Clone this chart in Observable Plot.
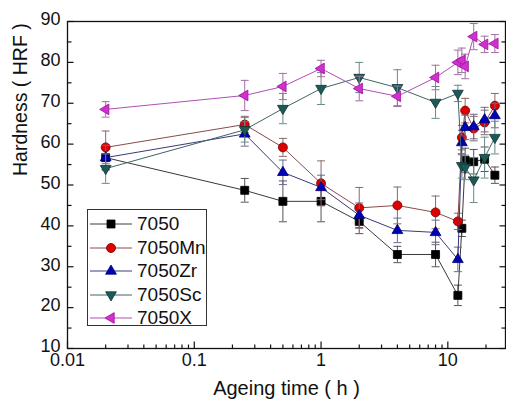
<!DOCTYPE html>
<html><head><meta charset="utf-8">
<script src="https://cdn.jsdelivr.net/npm/d3@7"></script>
<script src="https://cdn.jsdelivr.net/npm/@observablehq/plot@0.6"></script>
<style>
body{margin:0;background:#fff;font-family:"Liberation Sans",Arial,sans-serif;}
#wrap{position:relative;width:506px;height:407px;overflow:hidden;}
#legend{position:absolute;left:87px;top:209px;width:120px;height:117px;border:1px solid #333;background:#fff;box-sizing:border-box;}
.row{position:absolute;left:0;height:22px;display:flex;align-items:center;}
.row span{font-size:19px;color:#111;margin-left:4px;line-height:22px;white-space:nowrap;}
</style></head><body><div id="wrap"></div>
<script>
// ---- data ----
const times = [0.02, 0.25, 0.5, 1, 2, 4, 8, 12, 12.9, 13.7, 16, 19.5, 23.5];
const seriesNames = ["7050", "7050Mn", "7050Zr", "7050Sc", "7050X"];
const h7050   = [56.7, 48.7, 46.0, 46.0, 41.1, 33.0, 33.0, 23.0, 39.4, 56.0, 55.7, 56.3, 52.4];
const h7050Mn = [59.2, 64.8, 59.2, 50.4, 44.4, 45.0, 43.3, 41.1, 61.6, 68.2, 63.8, 65.3, 69.4];
const h7050Zr = [56.7, 62.5, 53.1, 49.4, 42.6, 38.9, 38.4, 31.8, 60.4, 64.1, 64.3, 66.0, 67.0];
const h7050Sc = [54.0, 63.5, 68.7, 73.6, 76.3, 73.8, 70.2, 72.4, 54.7, 54.3, 51.2, 56.7, 61.6];
const h7050X  = [68.5, 71.9, 74.1, 78.5, 73.6, 71.7, 76.3, 80.0, 80.5, 79.0, 86.3, 84.4, 84.6];
const e7050   = [3.0, 2.9, 5.0, 5.0, 3.0, 2.0, 3.0, 2.5, 2.0, 3.0, 3.0, 3.0, 2.0];
const e7050Mn = [4.0, 2.0, 2.2, 5.5, 5.0, 4.5, 4.0, 2.0, 3.0, 3.0, 3.0, 3.0, 3.0];
const e7050Zr = [3.0, 3.0, 3.0, 3.0, 3.0, 3.0, 3.0, 3.0, 3.0, 3.0, 3.0, 3.0, 3.0];
const e7050Sc = [3.6, 3.0, 3.7, 3.9, 3.7, 4.4, 3.9, 2.0, 3.0, 3.0, 5.5, 5.0, 4.0];
const e7050X  = [1.9, 3.7, 3.2, 2.0, 3.0, 2.5, 3.0, 3.0, 3.0, 3.0, 3.2, 2.0, 2.2];
const xTickLabels = [0.01, 0.1, 1, 10];
const xMinorTicks = [0.02,0.03,0.04,0.05,0.06,0.07,0.08,0.09,0.2,0.3,0.4,0.5,0.6,0.7,0.8,0.9,2,3,4,5,6,7,8,9,20];
const yTickLabels = [10, 20, 30, 40, 50, 60, 70, 80, 90];
const yMinorTicks = [15, 25, 35, 45, 55, 65, 75, 85];

// ---- symbols ----
const symSquare = {draw(c){c.rect(-4,-4,8,8);}};
const symCircle = {draw(c){c.moveTo(4.5,0); c.arc(0,0,4.5,0,2*Math.PI);}};
const symUp = {draw(c){c.moveTo(0,-6); c.lineTo(5.4,3.2); c.lineTo(-5.4,3.2); c.closePath();}};
const symDown = {draw(c){c.moveTo(0,6); c.lineTo(5.4,-3.2); c.lineTo(-5.4,-3.2); c.closePath();}};
const symLeft = {draw(c){c.moveTo(-6,0); c.lineTo(3.2,-5.4); c.lineTo(3.2,5.4); c.closePath();}};
const symCap = {draw(c){c.moveTo(-4,0); c.lineTo(4,0);}};
const tickR = (l) => ({draw(c){c.moveTo(0,0); c.lineTo(l,0);}});
const tickL = (l) => ({draw(c){c.moveTo(0,0); c.lineTo(-l,0);}});
const tickU = (l) => ({draw(c){c.moveTo(0,0); c.lineTo(0,-l);}});

const styles = {
  "7050":   {sym: symSquare, fill: "#000000", stroke: "#000000", line: "#3a3a3a", err: "#555555"},
  "7050Mn": {sym: symCircle, fill: "#dd0000", stroke: "#7a0000", line: "#8a4a4a", err: "#8a6a6a"},
  "7050Zr": {sym: symUp,     fill: "#0000b8", stroke: "#000070", line: "#3a3a78", err: "#6a6a90"},
  "7050Sc": {sym: symDown,   fill: "#1c5a58", stroke: "#0c3634", line: "#3d6664", err: "#6a8a88"},
  "7050X":  {sym: symLeft,   fill: "#d030d0", stroke: "#a010a0", line: "#b050b0", err: "#a070a0"}
};
const values = {"7050": h7050, "7050Mn": h7050Mn, "7050Zr": h7050Zr, "7050Sc": h7050Sc, "7050X": h7050X};
const errors = {"7050": e7050, "7050Mn": e7050Mn, "7050Zr": e7050Zr, "7050Sc": e7050Sc, "7050X": e7050X};

const marks = [];
for (const s of seriesNames) {
  const st = styles[s];
  const data = times.map((t, i) => ({t, v: values[s][i], lo: values[s][i] - errors[s][i], hi: values[s][i] + errors[s][i]}));
  marks.push(Plot.ruleX(data, {x: "t", y1: "lo", y2: "hi", stroke: st.err, strokeWidth: 1}));
  marks.push(Plot.dot(data, {x: "t", y: "lo", symbol: symCap, fill: "none", stroke: st.err, strokeWidth: 1}));
  marks.push(Plot.dot(data, {x: "t", y: "hi", symbol: symCap, fill: "none", stroke: st.err, strokeWidth: 1}));
  marks.push(Plot.line(data, {x: "t", y: "v", stroke: st.line, strokeWidth: 1}));
  marks.push(Plot.dot(data, {x: "t", y: "v", symbol: st.sym, fill: st.fill, stroke: st.stroke, strokeWidth: 0.8}));
}

const chart = Plot.plot({
  width: 506, height: 407,
  marginLeft: 67, marginRight: 1, marginTop: 21, marginBottom: 59,
  style: {fontFamily: "'Liberation Sans', Arial, sans-serif", fontSize: "18px", background: "white", color: "#111"},
  x: {type: "log", domain: [0.01, 28.5], axis: null},
  y: {domain: [10, 90], axis: null},
  marks: [
    ...marks,
    Plot.frame({stroke: "#111", strokeWidth: 1.3}),
    Plot.dot(yTickLabels, {y: d => d, frameAnchor: "left", symbol: tickR(6), fill: "none", stroke: "#111", strokeWidth: 1.2}),
    Plot.dot(yMinorTicks, {y: d => d, frameAnchor: "left", symbol: tickR(4), fill: "none", stroke: "#111", strokeWidth: 1.2}),
    Plot.dot(yTickLabels, {y: d => d, frameAnchor: "right", symbol: tickL(6), fill: "none", stroke: "#111", strokeWidth: 1.2}),
    Plot.dot(yMinorTicks, {y: d => d, frameAnchor: "right", symbol: tickL(4), fill: "none", stroke: "#111", strokeWidth: 1.2}),
    Plot.dot(xTickLabels, {x: d => d, frameAnchor: "bottom", symbol: tickU(7), fill: "none", stroke: "#111", strokeWidth: 1.2}),
    Plot.dot(xMinorTicks, {x: d => d, frameAnchor: "bottom", symbol: tickU(4), fill: "none", stroke: "#111", strokeWidth: 1.2}),
    Plot.axisX({ticks: xTickLabels, tickSize: 0, tickPadding: 5, tickFormat: d => String(d), label: null, fontSize: 18}),
    Plot.axisY({ticks: yTickLabels, tickSize: 0, tickPadding: 7, dy: -2, tickFormat: d => String(d), label: null, fontSize: 18}),
    Plot.text(["Ageing time ( h )"], {frameAnchor: "bottom", dy: 46, text: d => d, fontSize: 20, fill: "#111"}),
    Plot.text(["Hardness ( HRF )"], {frameAnchor: "left", dx: -47, dy: -9, rotate: -90, text: d => d, fontSize: 19.5, fill: "#111"})
  ]
});
const wrap = document.getElementById("wrap");
wrap.appendChild(chart);

// legend
const legend = document.createElement("div");
legend.id = "legend";
seriesNames.forEach((s, i) => {
  const st = styles[s];
  const row = document.createElement("div");
  row.className = "row";
  row.style.top = (3 + i * 23.5) + "px";
  const path = d3.symbol(st.sym)();
  row.innerHTML = `<svg width="45" height="22" style="flex:none"><line x1="2" x2="44" y1="11" y2="11" stroke="${st.line}" stroke-width="1"/><path d="${path}" transform="translate(23,11)" fill="${st.fill}" stroke="${st.stroke}" stroke-width="0.8"/></svg><span>${s}</span>`;
  legend.appendChild(row);
});
wrap.appendChild(legend);
</script>
</body></html>
